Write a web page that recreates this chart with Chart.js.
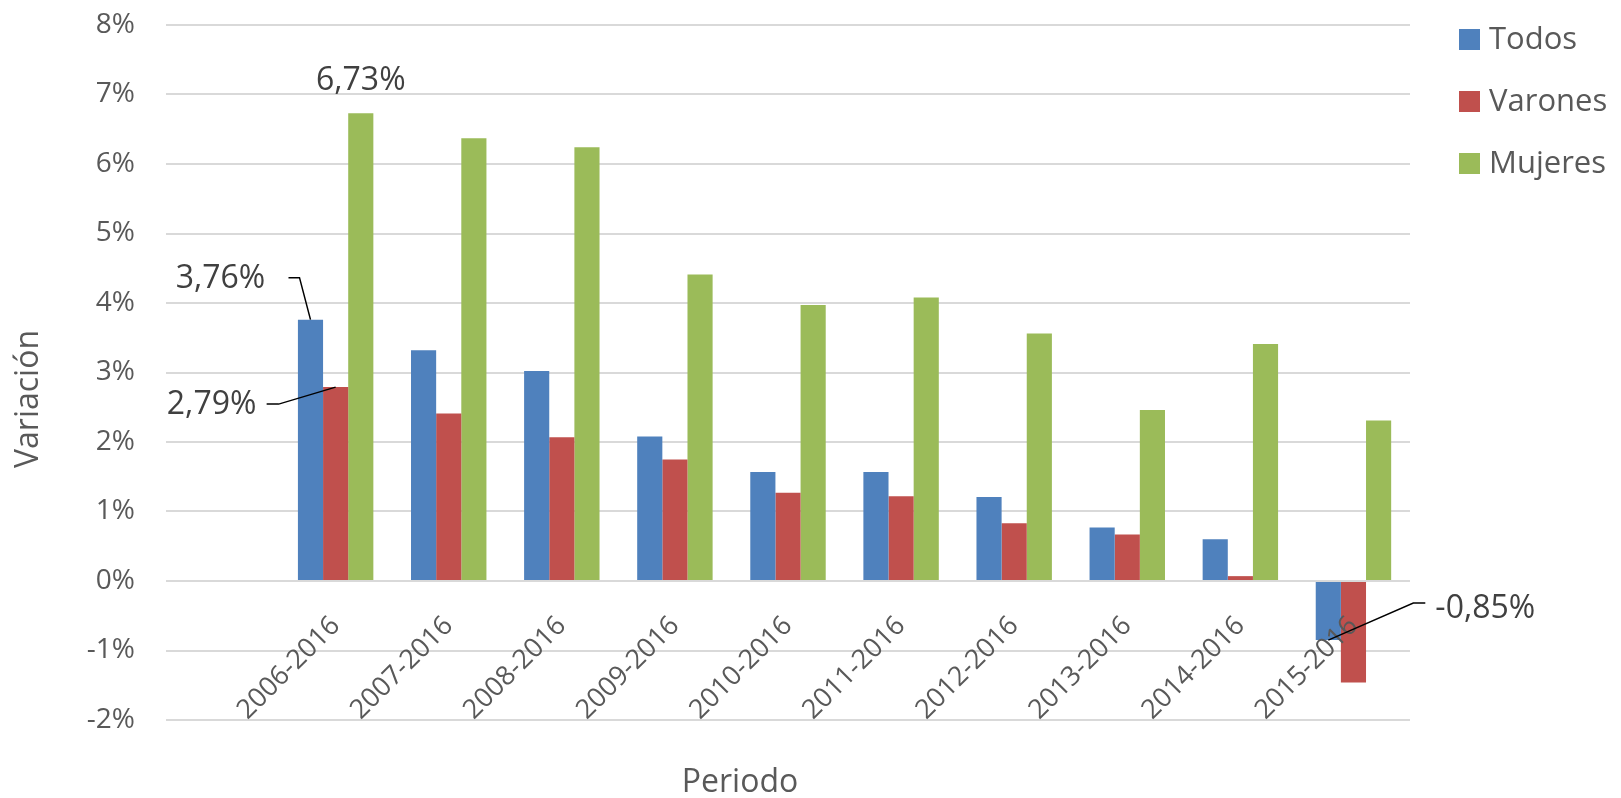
<!DOCTYPE html>
<html>
<head>
<meta charset="utf-8">
<script src="https://cdn.jsdelivr.net/npm/chart.js@4"></script>
<style>
  html, body { margin: 0; padding: 0; background: #ffffff; }
  #wrap { position: relative; width: 1621px; height: 798px; }
</style>
</head>
<body>
<div id="wrap"><canvas id="c"></canvas></div>
<script>
// ---- data ----
const periods = ['2006-2016','2007-2016','2008-2016','2009-2016','2010-2016','2011-2016','2012-2016','2013-2016','2014-2016','2015-2016'];
const todos   = [3.76, 3.32, 3.02, 2.08, 1.57, 1.57, 1.21, 0.77, 0.60, -0.85];
const varones = [2.79, 2.41, 2.07, 1.75, 1.27, 1.22, 0.83, 0.67, 0.07, -1.46];
const mujeres = [6.73, 6.37, 6.24, 4.41, 3.97, 4.08, 3.56, 2.46, 3.41, 2.31];
const seriesNames = ['Todos', 'Varones', 'Mujeres'];
const yTicks = [-2, -1, 0, 1, 2, 3, 4, 5, 6, 7, 8];

// labelled points: [datasetIndex, periodIndex]
const labelled = [[2, 0], [0, 0], [1, 0], [0, 9]];

const FONT = "'Open Sans', 'DejaVu Sans', sans-serif";
const colors = ['#4F81BD', '#C0504D', '#9BBB59'];

const fmt = v => v.toFixed(2).replace('.', ',') + '%';

// label placement (offset from bar end) and leader elbows
const labelStyle = {
  '2,0': { dx: 0,    dy: -32, leader: null },
  '0,0': { dx: -90,  dy: -41, leader: [[-11, -42], [-22, -42]] },
  '1,0': { dx: -124, dy: 18,  leader: [[-57, 17], [-69, 17]] },
  '0,9': { dx: 157,  dy: -31, leader: [[85, -37], [97, -37]] }
};

const annotatePlugin = {
  id: 'annotate',
  afterDraw(chart) {
    const ctx = chart.ctx;
    ctx.save();
    labelled.forEach(([ds, i]) => {
      const el = chart.getDatasetMeta(ds).data[i + 1];
      const v = chart.data.datasets[ds].data[i + 1];
      const st = labelStyle[ds + ',' + i];
      const x = el.x, y = el.y;
      if (st.leader) {
        ctx.beginPath();
        ctx.strokeStyle = '#000000';
        ctx.lineWidth = 1.5;
        ctx.moveTo(x, y);
        st.leader.forEach(p => ctx.lineTo(x + p[0], y + p[1]));
        ctx.stroke();
      }
      ctx.fillStyle = '#404040';
      ctx.font = '32px ' + FONT;
      ctx.textAlign = 'center';
      ctx.textBaseline = 'middle';
      ctx.fillText(fmt(v), x + st.dx, y + st.dy);
    });
    ctx.restore();
  }
};

const titlesLegendPlugin = {
  id: 'titlesLegend',
  afterDraw(chart) {
    const ctx = chart.ctx;
    ctx.save();
    ctx.fillStyle = '#595959';
    ctx.font = '32px ' + FONT;
    ctx.textAlign = 'center';
    ctx.textBaseline = 'middle';
    // y title
    ctx.save();
    ctx.translate(29, 399);
    ctx.rotate(-Math.PI / 2);
    ctx.fillText('Variación', 0, 0);
    ctx.restore();
    // x title
    ctx.fillText('Periodo', 740, 783);
    // legend
    ctx.font = '31px ' + FONT;
    ctx.textAlign = 'left';
    chart.data.datasets.forEach((d, k) => {
      const cy = 39.5 + k * 62;
      ctx.fillStyle = d.backgroundColor;
      ctx.fillRect(1459, cy - 10.5, 21, 21);
      ctx.fillStyle = '#595959';
      ctx.fillText(d.label, 1489, cy + 1);
    });
    ctx.restore();
  }
};

const withBlank = arr => [null].concat(arr);

new Chart(document.getElementById('c'), {
  type: 'bar',
  data: {
    labels: [''].concat(periods),
    datasets: [
      { label: seriesNames[0], data: withBlank(todos),   backgroundColor: colors[0] },
      { label: seriesNames[1], data: withBlank(varones), backgroundColor: colors[1] },
      { label: seriesNames[2], data: withBlank(mujeres), backgroundColor: colors[2] }
    ]
  },
  options: {
    responsive: true,
    maintainAspectRatio: false,
    animation: false,
    devicePixelRatio: 1,
    layout: { padding: { left: 0, right: 211, top: 25, bottom: 78 } },
    datasets: { bar: { categoryPercentage: 0.667, barPercentage: 1.0, borderWidth: 0 } },
    plugins: {
      legend: { display: false },
      tooltip: { enabled: false },
      title: { display: false }
    },
    scales: {
      x: {
        position: { y: 0 },
        afterFit(scale) { scale.paddingTop = 0; scale.paddingBottom = 0; },
        grid: { display: false, drawTicks: false },
        border: { display: false },
        ticks: {
          z: 1,
          color: '#595959',
          font: { family: FONT, size: 27 },
          minRotation: 45,
          maxRotation: 45,
          padding: 29,
          autoSkip: false
        }
      },
      y: {
        min: -2,
        max: 8,
        afterBuildTicks(scale) { scale.ticks = yTicks.map(v => ({ value: v })); },
        afterFit(scale) { scale.width = 166; scale.paddingTop = 0; scale.paddingBottom = 0; },
        grid: { color: '#D9D9D9', lineWidth: 2, drawTicks: false },
        border: { display: false },
        ticks: {
          color: '#595959',
          font: { family: FONT, size: 28 },
          padding: 31,
          callback: v => v + '%'
        }
      }
    }
  },
  plugins: [annotatePlugin, titlesLegendPlugin]
});
</script>
</body>
</html>
